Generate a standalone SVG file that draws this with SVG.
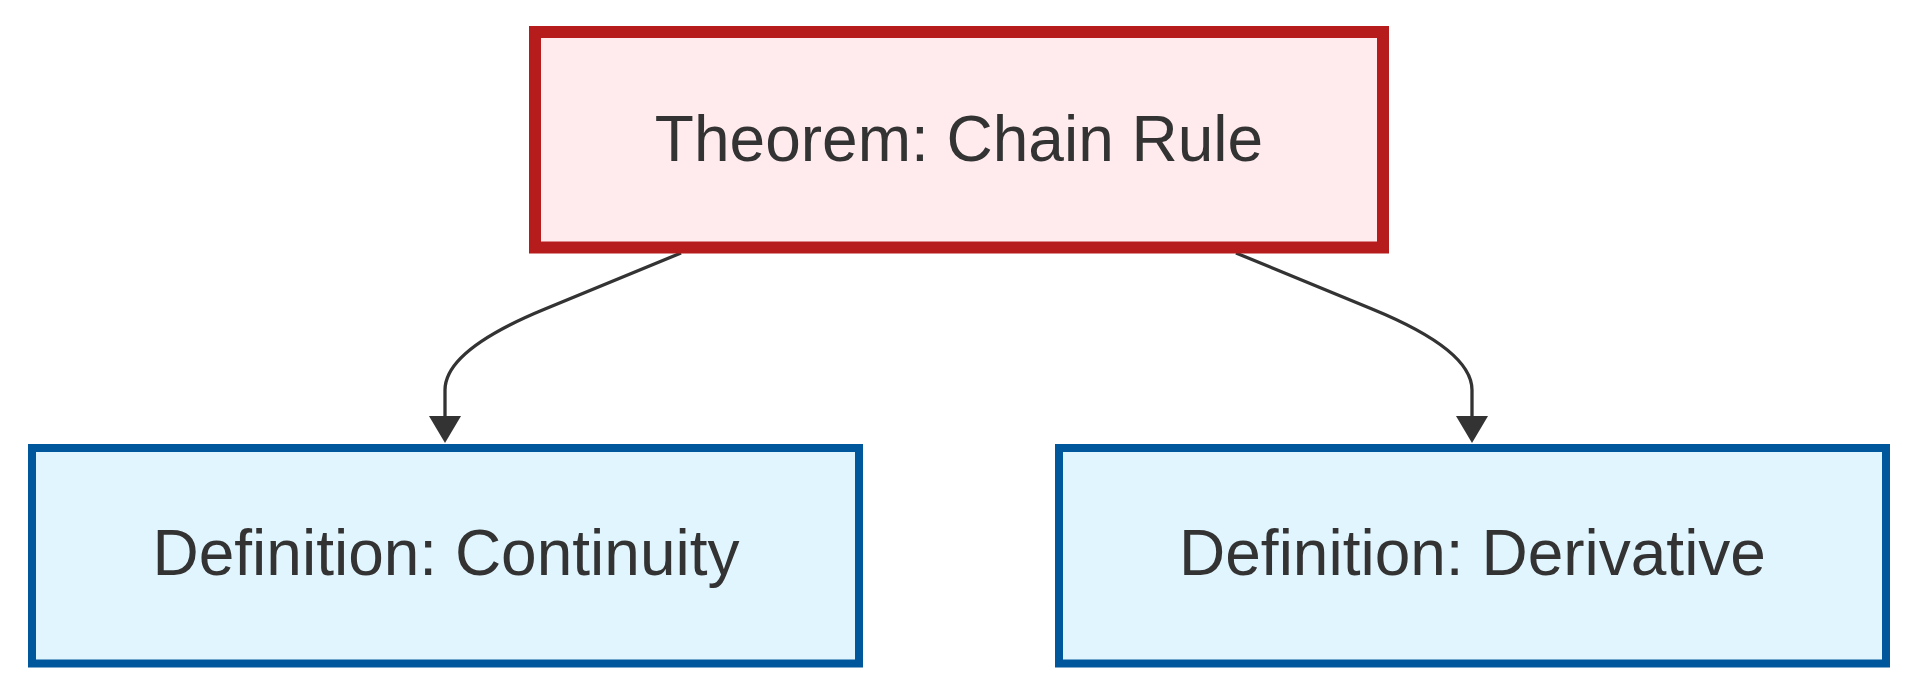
<svg xmlns="http://www.w3.org/2000/svg" width="1916" height="696" viewBox="0 0 1916 696">
<style>
.lbl{font-family:"Liberation Sans",Arial,sans-serif;font-size:64px;fill:#333333;text-anchor:middle}
.thm{fill:#ffebee;stroke:#b71c1c;stroke-width:12}
.def{fill:#e1f5fe;stroke:#01579b;stroke-width:8}
.edge{fill:none;stroke:#333333;stroke-width:3.3}
</style>
<defs>
<marker id="arrow" viewBox="0 0 27 32" refX="0" refY="16" markerUnits="userSpaceOnUse" markerWidth="27" markerHeight="32" orient="auto">
<path d="M0,0 L27,16 L0,32 z" fill="#333333"/>
</marker>
</defs>
<rect width="1916" height="696" fill="#ffffff"/>
<g id="edges">
<path class="edge" d="M681,253 L545,309 Q445,350 445,390 L445,416" marker-end="url(#arrow)"/>
<path class="edge" d="M1236,253 L1372,309 Q1472,350 1472,390 L1472,416" marker-end="url(#arrow)"/>
</g>
<g id="theorem">
<rect class="thm" x="535" y="32" width="848" height="215.5"/>
<text class="lbl" x="959" y="161">Theorem: Chain Rule</text>
</g>
<g id="continuity">
<rect class="def" x="32" y="448" width="827" height="215.5"/>
<text class="lbl" x="446" y="575">Definition: Continuity</text>
</g>
<g id="derivative">
<rect class="def" x="1059" y="448" width="827" height="215.5"/>
<text class="lbl" x="1472.5" y="575">Definition: Derivative</text>
</g>
</svg>
